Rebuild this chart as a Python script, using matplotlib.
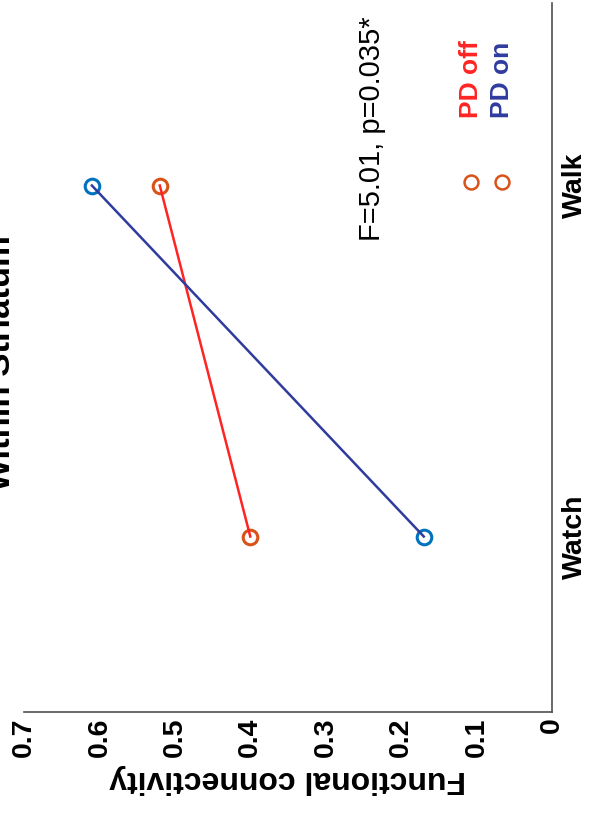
import matplotlib.pyplot as plt
from matplotlib.lines import Line2D

plt.rcParams['font.family'] = ['Liberation Sans', 'DejaVu Sans']

# conditions on the category axis and mean connectivity per group
conditions = ['Watch', 'Walk']
cond_pos = [1, 2]
pd_off = [0.40, 0.52]
pd_on = [0.17, 0.61]
conn_ticks = [0, 0.1, 0.2, 0.3, 0.4, 0.5, 0.6, 0.7]
conn_labels = ['0', '0.1', '0.2', '0.3', '0.4', '0.5', '0.6', '0.7']
stats_text = 'F=5.01, p=0.035*'

red = '#ff2424'
navy = '#2f3c9e'
orange = '#d95319'
mblue = '#0072bd'

fig = plt.figure(figsize=(5.9, 8.22), dpi=100)
ax = fig.add_axes([24 / 590, 110 / 822, 528 / 590, 709 / 822])

# figure is laid out sideways: connectivity runs right-to-left along x
ax.plot(pd_off, cond_pos, 'o', ms=10.5, mfc='none', mec=orange, mew=2.2, zorder=2)
ax.plot(pd_on, cond_pos, 'o', ms=10.5, mfc='none', mec=mblue, mew=2.2, zorder=2)
ax.plot(pd_off, cond_pos, '-', color=red, lw=1.8, zorder=3)
ax.plot(pd_on, cond_pos, '-', color=navy, lw=1.8, zorder=3)

ax.set_xlim(0.7, 0)
ax.set_ylim(0.5, 2.52)

for s in ['top', 'left']:
    ax.spines[s].set_visible(False)
for s in ['bottom', 'right']:
    ax.spines[s].set_color('#505050')
    ax.spines[s].set_linewidth(1.2)

ax.set_xticks(conn_ticks)
ax.set_xticklabels(conn_labels, rotation=90, fontsize=20.5, fontweight='bold')
ax.yaxis.tick_right()
ax.set_yticks(cond_pos)
ax.set_yticklabels(conditions, rotation=90, fontsize=20.5, fontweight='bold',
                   va='center')
ax.tick_params(axis='x', length=0, pad=4)
ax.tick_params(axis='y', length=0, pad=7)

ax.set_xlabel('Functional connectivity', rotation=180, fontsize=23,
              fontweight='bold', labelpad=5)

ax.text(0.238, 1.843, stats_text, rotation=90, fontsize=21,
        ha='center', va='bottom')

# legend drawn sideways by hand
ax.add_line(Line2D([0.8466], [0.7475], marker='o', ms=10, mfc='none',
                   mec=orange, mew=1.8, ls='none', transform=ax.transAxes))
ax.add_line(Line2D([0.905], [0.7475], marker='o', ms=10, mfc='none',
                   mec=orange, mew=1.8, ls='none', transform=ax.transAxes))
ax.text(0.8466, 0.838, 'PD off', color=red, rotation=90, fontsize=19,
        fontweight='bold', ha='center', va='bottom', transform=ax.transAxes)
ax.text(0.905, 0.838, 'PD on', color=navy, rotation=90, fontsize=19,
        fontweight='bold', ha='center', va='bottom', transform=ax.transAxes)

fig.text(17 / 590, 1 - 363 / 822, 'Within Striatum', rotation=90,
         fontsize=25, fontweight='bold', ha='right', va='center')

fig.savefig('out.png', dpi=100)
